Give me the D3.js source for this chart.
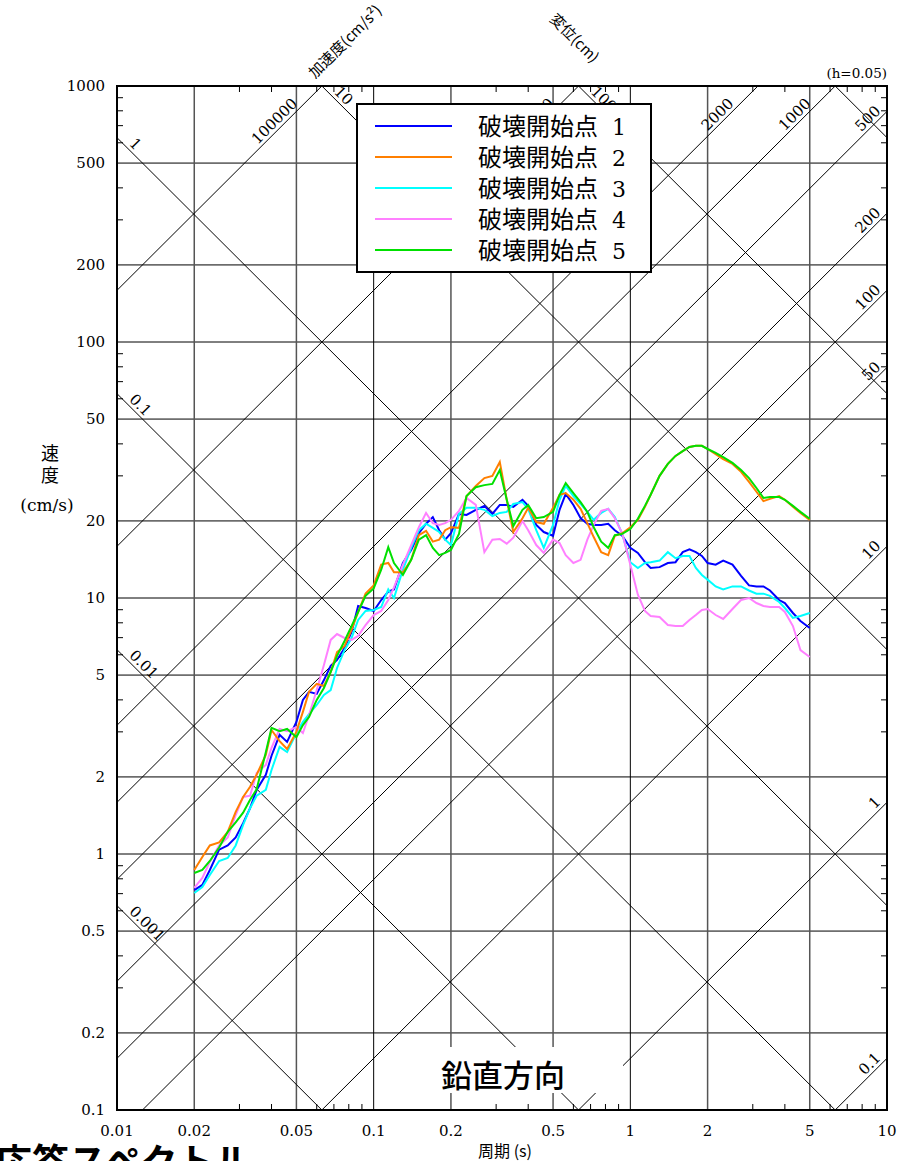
<!DOCTYPE html>
<html><head><meta charset="utf-8">
<script src="https://cdn.jsdelivr.net/npm/d3@7"></script>
<style>body{margin:0;background:#fff}</style>
</head><body>
<svg id="c" width="913" height="1161"></svg>
<script>
// ---------------- data ----------------
const periods = [0.020,0.0215,0.023,0.025,0.027,0.029,0.031,0.033,0.035,0.038,0.040,0.043,0.046,0.050,0.053,0.056,0.060,0.064,0.068,0.072,0.077,0.082,0.087,0.093,0.100,0.107,0.114,0.120,0.130,0.140,0.150,0.160,0.170,0.180,0.190,0.200,0.215,0.230,0.250,0.270,0.290,0.310,0.330,0.350,0.380,0.400,0.430,0.460,0.500,0.530,0.560,0.600,0.640,0.680,0.720,0.770,0.820,0.870,0.930,1.00,1.07,1.14,1.20,1.30,1.40,1.50,1.60,1.70,1.80,1.90,2.00,2.15,2.30,2.50,2.70,2.90,3.10,3.30,3.50,3.80,4.00,4.30,4.60,5.00];
const seriesNames = ["破壊開始点","破壊開始点","破壊開始点","破壊開始点","破壊開始点"];
const seriesNumbers = ["1","2","3","4","5"];
const seriesColors = ["#0000ff","#ff7f00","#00ffff","#ff80ff","#00e000"];
const vel1 = [0.723,0.757,0.866,1.04,1.08,1.16,1.32,1.51,1.78,2.04,2.42,2.92,2.74,3.28,4.0,4.3,4.22,4.78,5.43,5.73,6.38,7.37,9.31,9.14,8.9,9.82,10.6,10.8,13.7,15.4,17.9,19.5,20.7,18.4,16.9,17.9,21.3,21.1,22.1,22.9,21.3,23.1,23.1,22.7,24.2,22.9,19.3,18.1,17.5,22.1,25.5,23.1,20.5,19.5,19.3,19.3,19.5,18.4,17.5,15.7,15.0,13.8,13.1,13.2,13.7,13.8,15.1,15.5,15.1,14.6,13.7,13.5,14.0,13.5,12.2,11.2,11.1,11.1,10.7,9.82,9.56,8.74,8.13,7.64];
const vel2 = [0.866,0.973,1.08,1.11,1.22,1.46,1.67,1.83,2.04,2.44,3.05,2.76,2.57,3.0,3.59,4.3,4.62,4.53,5.14,6.15,6.49,7.5,8.82,10.4,11.2,13.5,13.7,12.6,12.6,14.1,17.6,18.3,16.6,16.9,18.4,18.9,18.8,25.0,27.4,29.4,30.0,34.0,24.2,18.1,20.5,22.5,19.8,19.5,22.5,25.3,25.7,24.2,22.3,19.6,17.3,15.1,14.7,17.5,17.9,18.9,20.2,22.7,25.3,30.0,33.4,35.9,37.5,38.9,39.3,39.3,38.2,36.5,34.9,33.4,31.1,28.4,26.0,23.9,24.4,25.0,24.2,22.7,21.5,20.2];
const vel3 = [0.704,0.743,0.828,0.939,0.965,1.08,1.3,1.51,1.69,1.78,2.13,2.62,2.5,2.97,3.28,3.52,3.82,4.18,4.37,5.33,6.26,6.98,8.21,8.9,8.98,9.22,10.8,10.0,12.9,15.7,18.4,19.5,18.8,18.1,16.9,16.1,21.3,22.5,22.5,22.1,20.9,21.5,21.7,23.3,23.7,22.3,18.4,15.7,19.3,24.2,27.4,25.0,23.3,21.7,20.2,21.5,22.3,20.7,17.8,13.8,13.1,13.7,13.8,14.0,15.1,14.3,14.6,14.6,13.1,12.3,11.8,11.1,10.8,11.1,11.1,10.7,10.4,10.4,10.2,9.65,9.14,8.36,8.51,8.74];
const vel4 = [0.737,0.806,0.931,1.08,1.16,1.42,1.67,1.69,2.07,2.23,2.6,3.08,3.02,3.13,2.97,3.49,4.37,5.47,6.86,7.23,6.98,6.86,7.11,7.84,8.58,8.9,9.82,11.0,13.5,16.1,18.9,21.5,19.6,19.3,19.6,20.2,21.9,24.6,23.1,15.1,16.9,17.0,16.3,17.2,20.0,18.4,16.1,15.0,16.9,16.4,14.7,13.7,14.1,16.9,19.3,21.9,22.3,20.5,17.9,13.5,10.3,8.9,8.51,8.43,7.84,7.77,7.77,8.21,8.58,8.98,9.06,8.58,8.28,9.06,9.82,10.0,9.56,9.31,9.22,9.22,8.82,7.77,6.26,5.88];
const vel5 = [0.843,0.866,0.939,1.06,1.22,1.33,1.45,1.63,1.79,2.5,3.11,3.02,3.08,2.86,3.19,3.43,4.0,4.45,5.14,5.94,6.79,7.77,8.82,10.2,10.9,12.9,15.8,13.7,12.3,14.1,16.9,17.6,15.7,14.7,15.0,15.4,17.8,25.0,27.1,27.6,27.9,31.6,24.2,19.1,22.1,23.1,20.5,20.7,21.7,25.3,28.1,25.7,23.7,21.7,18.9,16.6,15.7,17.6,17.8,18.6,20.4,22.9,25.3,30.0,33.4,35.9,37.5,38.9,39.3,39.3,38.2,36.9,35.5,33.7,31.6,29.4,26.9,24.6,24.8,24.8,24.2,22.9,21.7,20.4];
const xTicks = [0.01,0.02,0.05,0.1,0.2,0.5,1,2,5,10];
const xTickLabels = ["0.01","0.02","0.05","0.1","0.2","0.5","1","2","5","10"];
const yTicks = [0.1,0.2,0.5,1,2,5,10,20,50,100,200,500,1000];
const yTickLabels = ["0.1","0.2","0.5","1","2","5","10","20","50","100","200","500","1000"];
const dispLevels = [0.001,0.01,0.1,1,10,100,1000];
const dispLabels = ["0.001","0.01","0.1","1","10","100",""];
const accLevels = [0.1,1,10,50,100,200,500,1000,2000,10000,100000];
const accLabels = ["0.1","1","10","50","100","200","500","1000","2000","10000","100000"];

// ---------------- drawing ----------------
const svg = d3.select("#c");
const L=117,R=887,T=86,B=1110;
const x = d3.scaleLog().domain([0.01,10]).range([L,R]);
const y = d3.scaleLog().domain([0.1,1000]).range([B,T]);
const serif = "'DejaVu Serif', serif";
const cjk = "'Noto Sans CJK JP', sans-serif";

svg.append("defs").append("clipPath").attr("id","pc")
  .append("rect").attr("x",L).attr("y",T).attr("width",R-L).attr("height",B-T);

const g = svg.append("g");
yTicks.filter(v=>v>0.1&&v<1000).forEach(v=>{
  g.append("line").attr("x1",L).attr("x2",R).attr("y1",y(v)).attr("y2",y(v))
   .attr("stroke","#000").attr("stroke-width",1);
});
xTicks.filter(v=>v>0.01&&v<10).forEach(v=>{
  const dec = Math.abs(Math.log10(v)-Math.round(Math.log10(v)))<1e-6;
  g.append("line").attr("y1",T).attr("y2",B).attr("x1",x(v)).attr("x2",x(v))
   .attr("stroke",dec?"#000":"#555").attr("stroke-width",dec?1:1.5);
});
const minors=[];
for(let e=-2;e<4;e++) [3,4,6,7,8,9].forEach(m=>minors.push(m*Math.pow(10,e)));
minors.filter(v=>v>0.1&&v<1000).forEach(v=>{
  g.append("line").attr("x1",L).attr("x2",L+6).attr("y1",y(v)).attr("y2",y(v)).attr("stroke","#000");
  g.append("line").attr("x1",R-6).attr("x2",R).attr("y1",y(v)).attr("y2",y(v)).attr("stroke","#000");
});
minors.filter(v=>v>0.01&&v<10).forEach(v=>{
  g.append("line").attr("y1",B).attr("y2",B-6).attr("x1",x(v)).attr("x2",x(v)).attr("stroke","#000");
  g.append("line").attr("y1",T).attr("y2",T+6).attr("x1",x(v)).attr("x2",x(v)).attr("stroke","#000");
});

// tripartite diagonals
const diag = svg.append("g").attr("clip-path","url(#pc)");
const TWO_PI = 2*Math.PI;
dispLevels.forEach(D=>{
  diag.append("line").attr("x1",x(0.01)).attr("y1",y(TWO_PI*D/0.01))
    .attr("x2",x(10)).attr("y2",y(TWO_PI*D/10)).attr("stroke","#000").attr("stroke-width",1);
});
accLevels.forEach(A=>{
  diag.append("line").attr("x1",x(0.01)).attr("y1",y(A*0.01/TWO_PI))
    .attr("x2",x(10)).attr("y2",y(A*10/TWO_PI)).attr("stroke","#000").attr("stroke-width",1);
});
const lab = svg.append("g").attr("font-family",serif).attr("font-size",15);
dispLevels.forEach((D,i)=>{
  if(!dispLabels[i]) return;
  let px,py;
  const vl = TWO_PI*D/0.01;
  if(vl<=1000){px=x(0.01);py=y(vl);} else {px=x(TWO_PI*D/1000);py=T;}
  const d=9;
  lab.append("text").attr("transform",`translate(${px+d+2.5},${py+d-2.5}) rotate(45)`)
    .text(dispLabels[i]);
});
accLevels.forEach((A,i)=>{
  let px,py,d;
  const vr = A*10/TWO_PI;
  if(vr<=1000){px=R;py=y(vr);d=3;} else {px=x(TWO_PI*1000/A);py=T;d=21;}
  lab.append("text").attr("text-anchor","end")
    .attr("transform",`translate(${px-d-2.5},${py+d-2.5}) rotate(-45)`)
    .text(accLabels[i]);
});

// series
const line = d3.line().x(d=>x(d[0])).y(d=>y(d[1]));
const allSeries=[vel1,vel2,vel3,vel4,vel5];
const drawOrder=[0,2,3,1,4];
const sg = svg.append("g").attr("clip-path","url(#pc)");
drawOrder.forEach(i=>{
  sg.append("path").datum(periods.map((p,k)=>[p,allSeries[i][k]]))
    .attr("d",line).attr("fill","none").attr("stroke",seriesColors[i])
    .attr("stroke-width",2).attr("stroke-linejoin","miter");
});

svg.append("rect").attr("x",L).attr("y",T).attr("width",R-L).attr("height",B-T)
  .attr("fill","none").attr("stroke","#000").attr("stroke-width",2);

// tick labels
const tl = svg.append("g").attr("font-family",serif).attr("font-size",15).attr("fill","#000");
yTicks.forEach((v,i)=>{
  tl.append("text").attr("x",105).attr("y",y(v)+5).attr("text-anchor","end").text(yTickLabels[i]);
});
xTicks.forEach((v,i)=>{
  tl.append("text").attr("x",x(v)).attr("y",1136).attr("text-anchor","middle").text(xTickLabels[i]);
});

// axis titles
svg.append("text").attr("x",505).attr("y",1157).attr("text-anchor","middle")
  .attr("font-family",cjk).attr("font-size",16).text("周期 (s)");
svg.append("text").attr("x",50).attr("y",444).attr("writing-mode","tb")
  .attr("letter-spacing",4).attr("font-family",cjk).attr("font-size",18).text("速度");
svg.append("text").attr("x",47).attr("y",511).attr("text-anchor","middle")
  .attr("font-family",serif).attr("font-size",17).text("(cm/s)");
svg.append("text").attr("x",887).attr("y",78).attr("text-anchor","end")
  .attr("font-family",serif).attr("font-size",13.5).text("(h=0.05)");
svg.append("text").attr("transform","translate(315,79) rotate(-45)")
  .attr("font-family",cjk).attr("font-size",15).text("加速度(cm/s²)");
svg.append("text").attr("transform","translate(549,20) rotate(45)")
  .attr("font-family",cjk).attr("font-size",15).text("変位(cm)");

// legend
const lg = svg.append("g");
lg.append("rect").attr("x",357).attr("y",104).attr("width",294).attr("height",168)
  .attr("fill","#fff").attr("stroke","#000").attr("stroke-width",2);
seriesNames.forEach((n,i)=>{
  const yy=126+i*31;
  lg.append("line").attr("x1",375).attr("x2",452).attr("y1",yy).attr("y2",yy)
    .attr("stroke",seriesColors[i]).attr("stroke-width",2);
  const t = lg.append("text").attr("x",478).attr("y",yy+9).attr("font-family",cjk)
    .attr("font-size",24).text(n);
  t.append("tspan").attr("dx",14).attr("font-family",serif).attr("font-size",22).text(seriesNumbers[i]);
});

// direction label
svg.append("rect").attr("x",428).attr("y",1047).attr("width",195).attr("height",46).attr("fill","#fff");
svg.append("text").attr("x",503).attr("y",1087).attr("text-anchor","middle")
  .attr("font-family",cjk).attr("font-size",31).attr("font-weight",500).text("鉛直方向");

// partial caption at the page edge
svg.append("text").attr("x",-5).attr("y",1176).attr("font-family",cjk)
  .attr("font-size",37).attr("font-weight",700).text("応答スペクトル");
</script>
</body></html>
